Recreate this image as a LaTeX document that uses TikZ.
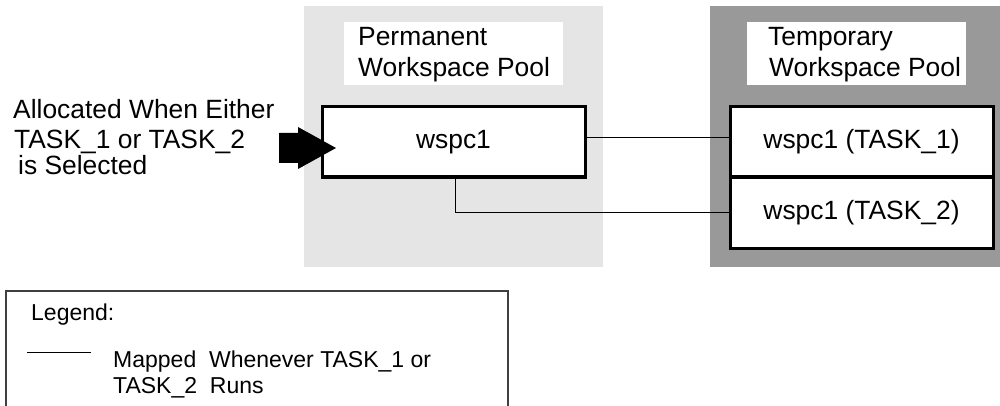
\documentclass[tikz,border=0pt]{standalone}
\usepackage{fontspec}
\setmainfont{Liberation Sans}
\definecolor{permgray}{HTML}{E5E5E5}
\definecolor{tempgray}{HTML}{999999}
\begin{document}
\begin{tikzpicture}[x=1pt,y=-1pt,
  txt/.style={inner sep=0pt, anchor=base west, font=\fontsize{26.4}{28}\selectfont},
  legtxt/.style={inner sep=0pt, anchor=base west, font=\fontsize{23}{26}\selectfont},
  wbox/.style={draw=black, line width=3pt, fill=white, inner sep=0pt, outer sep=0pt,
    minimum width=263pt, font=\fontsize{26.4}{28}\selectfont},
  conn/.style={draw=black, line width=1pt},
  labelbg/.style={fill=white, inner sep=0pt}]
\useasboundingbox (0,0) rectangle (1000,406);
% pools
\fill[permgray] (304,6) rectangle (603,267);
\fill[tempgray] (710,6) rectangle (1000,267);
\node[labelbg, minimum width=219pt, minimum height=63pt] (plab) at (453.5,53.5) {};
\node[labelbg, minimum width=219pt, minimum height=63pt] (tlab) at (856.5,53.5) {};
\node[txt] (p1) at (358,46) {Permanent};
\node[txt] (p2) at (358,77) {Workspace Pool};
\node[txt] (q1) at (768,46) {Temporary};
\node[txt] (q2) at (769,77) {Workspace Pool};
% boxes
\node[wbox, minimum height=70pt] (w) at (453.5,142) {wspc1};
\node[wbox, minimum height=70pt] (t1) at (861.5,142) {wspc1 (TASK\_1)};
\node[wbox, minimum height=71pt, anchor=north] (t2) at (t1.south) {wspc1 (TASK\_2)};
% connectors
\coordinate (c2) at (455,0);
\draw[conn] ([yshift=4pt]w.east) -- ([yshift=4pt]t1.west);
\draw[conn] (w.south -| c2) |- (t2.west);
% arrow
\fill[black] (279,133) -- (298,133) -- (298,127) -- (336,148) -- (298,169) -- (298,163) -- (279,163) -- cycle;
% left text
\node[txt] (a1) at (13,119) {Allocated When Either};
\node[txt] (a2) at (14,149) {TASK\_1 or TASK\_2};
\node[txt] (a3) at (18,175) {is Selected};
% legend
\draw[line width=1.2pt, draw=black!75] (6,410) -- (6,291) -- (508,291) -- (508,410);
\node[legtxt] (l0) at (31,320) {Legend:};
\coordinate (ls) at (27,352);
\coordinate (le) at (91,352);
\draw[conn] (ls) -- (le);
\node[legtxt] (l1) at (113,367) {Mapped\ \ Whenever TASK\_1 or};
\node[legtxt] (l2) at (113,393) {TASK\_2\ \ Runs};
\end{tikzpicture}
\end{document}
